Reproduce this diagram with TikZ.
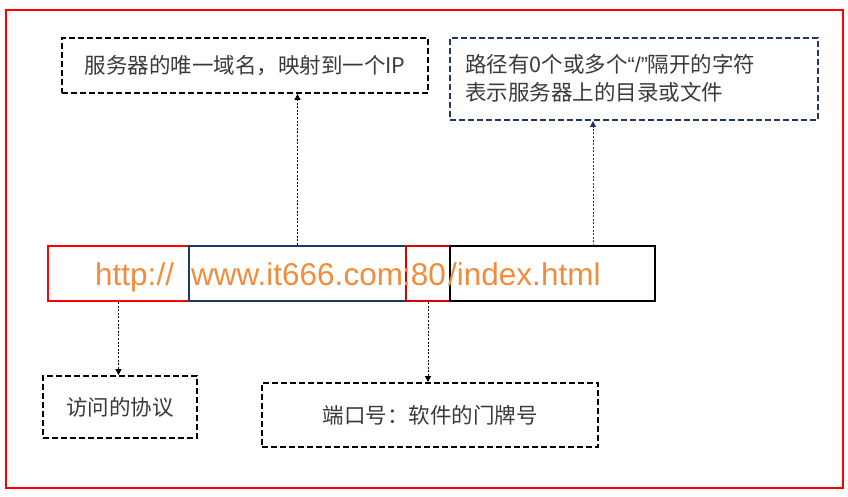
\documentclass[tikz,border=0pt]{standalone}
\usepackage{fontspec}
\setmainfont{Liberation Sans}
\newfontfamily\cjk{Noto Sans CJK SC}
\usetikzlibrary{arrows.meta,calc}
\definecolor{navy}{HTML}{1F3864}
\definecolor{urlorange}{HTML}{F08C3C}
\definecolor{txtgray}{HTML}{3A3A3A}
\begin{document}
\begin{tikzpicture}[x=1pt,y=-1pt,
  note/.style={draw=black, line width=1.8pt, dash pattern=on 6pt off 3pt, rectangle, inner sep=0pt, text=txtgray, font=\cjk\fontsize{21.5}{28}\selectfont},
  seg/.style={draw, line width=2pt, rectangle, inner sep=0pt, minimum height=55pt},
  urltxt/.style={text=urlorange, font=\fontsize{31.5}{34}\selectfont, inner sep=0pt, anchor=base west},
  ptr/.style={line width=0.8pt, dash pattern=on 2pt off 1.6pt, -{Triangle[length=6pt,width=6pt]}}]
\useasboundingbox (0,0) rectangle (848,497);
\draw[red, line width=2pt] (6,10) rectangle (843,488);
% annotation boxes
\node[note, minimum width=366pt, minimum height=55pt] (b1) at (245,65.5) {服务器的唯一域名，映射到一个IP};
\node[note, draw=navy, minimum width=368pt, minimum height=82pt] (b2) at (634,79) {};
\node[text=txtgray, font=\cjk\fontsize{21.5}{28}\selectfont, anchor=north west, inner sep=0pt, align=left] (b2t) at (465,54) {路径有0个或多个{\rmfamily“/”}隔开的字符\\表示服务器上的目录或文件};
\node[note, minimum width=154pt, minimum height=62pt] (b3) at (120,407) {访问的协议};
\node[note, minimum width=336pt, minimum height=64pt] (b4) at (430,415) {端口号：软件的门牌号};
% url segments
\node[seg, draw=red, minimum width=141pt] (r1) at (118.5,273.5) {};
\node[seg, draw=navy, minimum width=217pt] (n) at (297.5,273.5) {};
\node[seg, draw=red!85!black, minimum width=44pt] (r2) at (428,273.5) {};
\node[seg, draw=black, minimum width=205pt] (k) at (552.5,273.5) {};
\node[urltxt] (t1) at (95,285) {http://};
\node[urltxt] (t2) at (191,285) {www.it666.com};
\node[urltxt] (t3) at (402,285) {:80};
\node[urltxt] (t4) at (448,285) {/index.html};
% pointers
\coordinate (pa) at (593,246);
\draw[ptr] (n.north) -- (n.north |- b1.south);
\draw[ptr, navy] (pa) -- (pa |- b2.south);
\draw[ptr] (r1.south) -- (r1.south |- b3.north);
\draw[ptr] (r2.south) -- (r2.south |- b4.north);
\end{tikzpicture}
\end{document}
